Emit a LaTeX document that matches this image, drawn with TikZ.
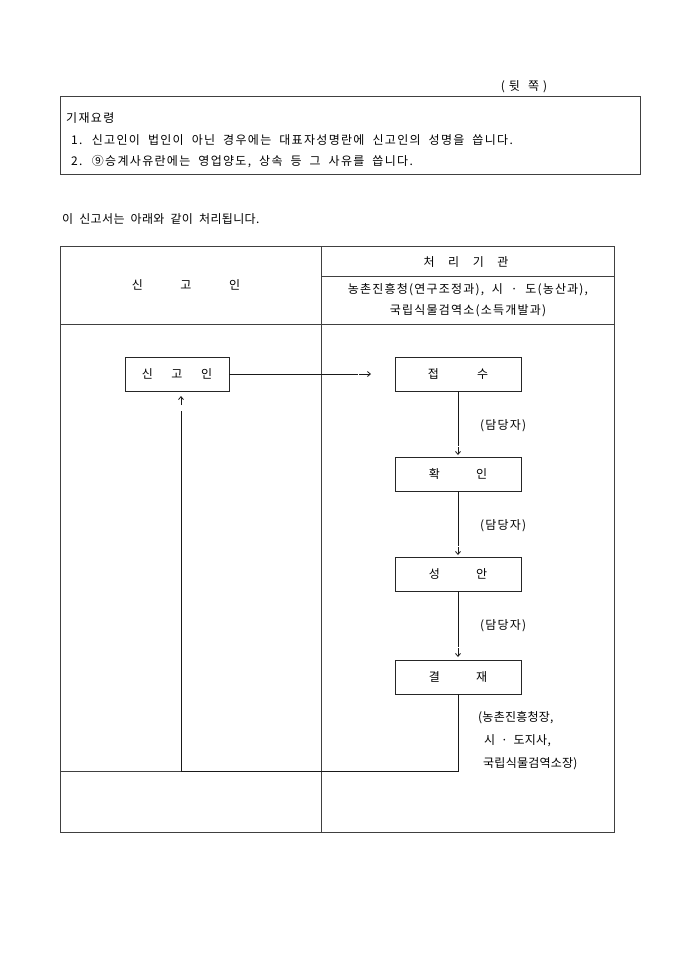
\documentclass[tikz,border=0pt]{standalone}
\usepackage{fontspec}
\setmainfont{Noto Sans CJK KR}[LetterSpace=10,WordSpace=2]
\newfontfamily\krwide{Noto Sans CJK KR}[LetterSpace=11,WordSpace=2]
\newfontfamily\krtight{Noto Sans CJK KR}[LetterSpace=3,WordSpace=2]
\newfontfamily\krsmall{Noto Sans CJK KR}[LetterSpace=2,WordSpace=2]
\newfontfamily\krplain{Noto Sans CJK KR}
\usetikzlibrary{arrows.meta}
\tikzset{
  tab/.style={draw=black!75, line width=0.9pt},
  flowbox/.style={draw=black!85, line width=0.9pt, minimum width=126pt, minimum height=34pt, inner sep=0pt, font=\krplain\fontsize{12}{14}\selectfont},
  flowline/.style={draw=black!90, line width=0.8pt},
  arr/.style={draw=black!90, line width=0.8pt, -{Straight Barb[length=3pt,width=5pt]}},
  txt/.style={inner sep=0pt, font=\fontsize{12}{14}\selectfont},
  ltxt/.style={txt, anchor=west}
}
\begin{document}
\begin{tikzpicture}[x=1pt,y=-1pt]
\useasboundingbox (0,0) rectangle (680,962);
\fill[white] (0,0) rectangle (680,962);

% header
\node[txt, font=\krplain\fontsize{12}{14}\selectfont] (back) at (524,87) {(\hspace{4pt}뒷\hspace{8pt}쪽\hspace{4pt})};

% instructions box
\draw[tab] (60,96) rectangle (640,174);
\node[ltxt, font=\krwide\fontsize{12}{14}\selectfont] (gi) at (66,118) {기재요령};
\node[ltxt, font=\krwide\fontsize{12}{14}\selectfont] (l1) at (71,140) {1. 신고인이 법인이 아닌 경우에는 대표자성명란에 신고인의 성명을 씁니다.};
\node[ltxt, font=\krwide\fontsize{12}{14}\selectfont] (l2) at (71,162) {2. ⑨승계사유란에는 영업양도, 상속 등 그 사유를 씁니다.};

\node[ltxt, font=\krtight\fontsize{12}{14}\selectfont] (intro) at (62,219) {이 신고서는 아래와 같이 처리됩니다.};

% table
\draw[tab] (60,246) rectangle (614,832);
\draw[tab] (321,246) -- (321,832);
\draw[tab] (321,276) -- (614,276);
\draw[tab] (60,324) -- (614,324);
\draw[tab] (60,771) -- (321,771);

\node[txt, font=\krplain\fontsize{12}{14}\selectfont] (h1) at (186,285) {신\hspace{37.5pt}고\hspace{37.5pt}인};
\node[txt, font=\krplain\fontsize{12}{14}\selectfont] (h2) at (466,262) {처\hspace{13.5pt}리\hspace{13.5pt}기\hspace{13.5pt}관};
\node[txt] (h3) at (468,290) {농촌진흥청(연구조정과),  시 · 도(농산과),};
\node[txt] (h4) at (468,311) {국립식물검역소(소득개발과)};

% flow boxes
\node[flowbox, minimum width=104pt] (sin) at (177,374) {신\hspace{18.5pt}고\hspace{18.5pt}인\hspace{7pt}};
\node[flowbox] (jeop) at (458,374) {접\hspace{38pt}수};
\node[flowbox] (hwak) at (458,474) {확\hspace{36pt}인};
\node[flowbox] (seong) at (458,574) {성\hspace{36pt}안};
\node[flowbox] (gyeol) at (458,677) {결\hspace{36pt}재};

% horizontal arrow
\coordinate (a1) at (358,374);
\coordinate (a1s) at (359,374);
\coordinate (a1e) at (371,374);
\draw[flowline] (sin.east) -- (a1);
\draw[arr] (a1s) -- (a1e);

% vertical arrows
\coordinate (d1) at (458,446);
\coordinate (d1s) at (458,447);
\coordinate (d1e) at (458,455);
\draw[flowline] (jeop.south) -- (d1);
\draw[arr] (d1s) -- (d1e);
\node[ltxt] (dd1) at (480,426) {(담당자)};

\coordinate (d2) at (458,546);
\coordinate (d2s) at (458,547);
\coordinate (d2e) at (458,555);
\draw[flowline] (hwak.south) -- (d2);
\draw[arr] (d2s) -- (d2e);
\node[ltxt] (dd2) at (480,526) {(담당자)};

\coordinate (d3) at (458,647);
\coordinate (d3s) at (458,648);
\coordinate (d3e) at (458,657);
\draw[flowline] (seong.south) -- (d3);
\draw[arr] (d3s) -- (d3e);
\node[ltxt] (dd3) at (480,626) {(담당자)};

% return line
\coordinate (c1) at (458,771);
\coordinate (c2) at (181,771);
\coordinate (u1) at (181,411);
\coordinate (u2) at (181,405);
\coordinate (u3) at (181,396);
\draw[flowline] (gyeol.south) -- (c1) -- (c2) -- (u1);
\draw[arr] (u2) -- (u3);

\node[ltxt, font=\krsmall\fontsize{12}{14}\selectfont] (b1) at (478,718) {(농촌진흥청장,};
\node[ltxt, font=\krsmall\fontsize{12}{14}\selectfont] (b2) at (484,741) {시 · 도지사,};
\node[ltxt, font=\krsmall\fontsize{12}{14}\selectfont] (b3) at (483,764) {국립식물검역소장)};
\end{tikzpicture}
\end{document}
